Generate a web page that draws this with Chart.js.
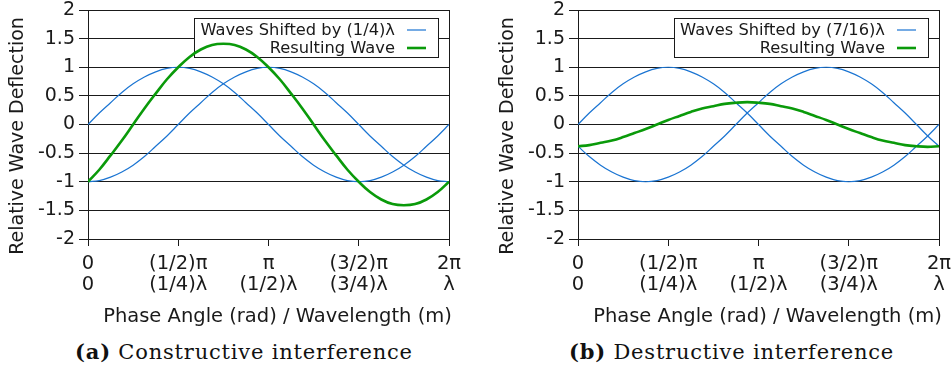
<!doctype html>
<html lang="en">
<head>
<meta charset="utf-8">
<script src="https://cdn.jsdelivr.net/npm/chart.js@4.4.1/dist/chart.umd.min.js"></script>
<style>
    html,
    body {
        margin: 0;
        padding: 0;
        background: #fff;
    }

    body {
        width: 951px;
        height: 380px;
        position: relative;
        overflow: hidden;
    }

    canvas {
        position: absolute;
        top: 0;
    }

    .caption {
        position: absolute;
        top: 339px;
        font-family: "DejaVu Serif", serif;
        font-size: 21px;
        letter-spacing: 0.8px;
        color: #111;
        white-space: nowrap;
    }
</style>
</head>

<body>
    <canvas id="chartA" width="461" height="330" style="left:0"></canvas>
    <canvas id="chartB" width="461" height="330" style="left:490px"></canvas>
    <div class="caption" style="left:75px"><b>(a)</b> Constructive interference</div>
    <div class="caption" style="left:569px"><b>(b)</b> Destructive interference</div>

    <script>
        // phase in units of pi, sampled every pi/16
        const phase = [0, 0.0625, 0.125, 0.1875, 0.25, 0.3125, 0.375, 0.4375, 0.5, 0.5625, 0.625, 0.6875, 0.75, 0.8125, 0.875, 0.9375,
            1, 1.0625, 1.125, 1.1875, 1.25, 1.3125, 1.375, 1.4375, 1.5, 1.5625, 1.625, 1.6875, 1.75, 1.8125, 1.875, 1.9375, 2];

        // (a) shifted by 1/4 wavelength
        const waveA1 = [0, 0.2, 0.38, 0.56, 0.71, 0.83, 0.92, 0.98, 1, 0.98, 0.92, 0.83, 0.71, 0.56, 0.38, 0.2,
            0, -0.2, -0.38, -0.56, -0.71, -0.83, -0.92, -0.98, -1, -0.98, -0.92, -0.83, -0.71, -0.56, -0.38, -0.2, 0];
        const waveA2 = [-1, -0.98, -0.92, -0.83, -0.71, -0.56, -0.38, -0.2, 0, 0.2, 0.38, 0.56, 0.71, 0.83, 0.92, 0.98,
            1, 0.98, 0.92, 0.83, 0.71, 0.56, 0.38, 0.2, 0, -0.2, -0.38, -0.56, -0.71, -0.83, -0.92, -0.98, -1];
        const resultA = [-1, -0.79, -0.54, -0.28, 0, 0.28, 0.54, 0.79, 1, 1.18, 1.31, 1.39, 1.41, 1.39, 1.31, 1.18,
            1, 0.79, 0.54, 0.28, 0, -0.28, -0.54, -0.79, -1, -1.18, -1.31, -1.39, -1.41, -1.39, -1.31, -1.18, -1];

        // (b) shifted by 7/16 wavelength
        const waveB1 = [0, 0.2, 0.38, 0.56, 0.71, 0.83, 0.92, 0.98, 1, 0.98, 0.92, 0.83, 0.71, 0.56, 0.38, 0.2,
            0, -0.2, -0.38, -0.56, -0.71, -0.83, -0.92, -0.98, -1, -0.98, -0.92, -0.83, -0.71, -0.56, -0.38, -0.2, 0];
        const waveB2 = [-0.38, -0.56, -0.71, -0.83, -0.92, -0.98, -1, -0.98, -0.92, -0.83, -0.71, -0.56, -0.38, -0.2, 0, 0.2,
            0.38, 0.56, 0.71, 0.83, 0.92, 0.98, 1, 0.98, 0.92, 0.83, 0.71, 0.56, 0.38, 0.2, 0, -0.2, -0.38];
        const resultB = [-0.38, -0.36, -0.32, -0.28, -0.22, -0.15, -0.08, 0, 0.08, 0.15, 0.22, 0.28, 0.32, 0.36, 0.38, 0.39,
            0.38, 0.36, 0.32, 0.28, 0.22, 0.15, 0.08, 0, -0.08, -0.15, -0.22, -0.28, -0.32, -0.36, -0.38, -0.39, -0.38];

        // tick labels
        const xTickValues = [0, 0.5, 1, 1.5, 2];
        const piLabels = ['0', '(1/2)\u03c0', '\u03c0', '(3/2)\u03c0', '2\u03c0'];
        const lambdaLabels = ['0', '(1/4)\u03bb', '(1/2)\u03bb', '(3/4)\u03bb', '\u03bb'];

        const BLUE = '#1a74d2';
        const GREEN = '#0a9a0a';
        const INK = '#1a1a1a';
        const FONT = '"DejaVu Sans", sans-serif';

        // frame, legend box (under the curves) and axis titles
        const frameAndLegend = {
            id: 'frameAndLegend',
            beforeDatasetsDraw(chart) {
                const { ctx, chartArea } = chart;
                ctx.save();
                ctx.font = '16.3px ' + FONT;
                const entries = chart.data.datasets.filter(d => d.legendRow !== undefined)
                    .sort((a, b) => a.legendRow - b.legendRow);
                const textW = Math.max(...entries.map(e => ctx.measureText(e.label).width));
                const right = chartArea.right - 10;
                const top = chartArea.top + 8;
                const textRight = right - 44;
                const left = Math.round(textRight - textW - 6);
                const bottom = top + 39;
                ctx.fillStyle = '#fff';
                ctx.fillRect(left, top, right - left, bottom - top);
                ctx.strokeStyle = INK;
                ctx.lineWidth = 1;
                ctx.strokeRect(left + 0.5, top + 0.5, right - left - 1, bottom - top);
                entries.forEach((e, i) => {
                    const y = top + 12 + i * 18;
                    ctx.fillStyle = INK;
                    ctx.textAlign = 'right';
                    ctx.textBaseline = 'middle';
                    ctx.fillText(e.label, textRight, y + 1);
                    ctx.strokeStyle = e.borderColor;
                    ctx.lineWidth = e.borderWidth;
                    ctx.beginPath();
                    ctx.moveTo(right - 32, y);
                    ctx.lineTo(right - 13, y);
                    ctx.stroke();
                });
                // plot frame
                ctx.strokeStyle = INK;
                ctx.lineWidth = 1;
                ctx.strokeRect(Math.round(chartArea.left) + 0.5, Math.round(chartArea.top) + 0.5,
                    Math.round(chartArea.right - chartArea.left), Math.round(chartArea.bottom - chartArea.top));
                ctx.restore();
            },
            afterDraw(chart) {
                const { ctx, chartArea } = chart;
                ctx.save();
                ctx.fillStyle = INK;
                ctx.font = '19.5px ' + FONT;
                ctx.textAlign = 'center';
                ctx.textBaseline = 'middle';
                ctx.fillText('Phase Angle (rad) / Wavelength (m)', (chartArea.left + chartArea.right) / 2 + 9, 317);
                ctx.font = '19px ' + FONT;
                ctx.translate(18, 136);
                ctx.rotate(-Math.PI / 2);
                ctx.fillText('Relative Wave Deflection', 0, 0);
                ctx.restore();
            }
        };

        function points(values) {
            return phase.map((x, i) => ({ x: x, y: values[i] }));
        }

        function makeChart(id, shiftText, w1, w2, res) {
            return new Chart(document.getElementById(id), {
                type: 'line',
                data: {
                    datasets: [
                        { label: 'Resulting Wave', data: points(res), borderColor: GREEN, borderWidth: 2.6, order: 0, legendRow: 1 },
                        { label: 'Waves Shifted by ' + shiftText, data: points(w1), borderColor: BLUE, borderWidth: 1.2, order: 1, legendRow: 0 },
                        { label: 'Waves Shifted by ' + shiftText, data: points(w2), borderColor: BLUE, borderWidth: 1.2, order: 2 }
                    ].map(d => Object.assign(d, { pointRadius: 0, fill: false, tension: 0.4 }))
                },
                options: {
                    responsive: false,
                    animation: false,
                    devicePixelRatio: 1,
                    layout: { padding: { left: 0, right: 12, top: 10, bottom: 0 } },
                    plugins: { legend: { display: false }, tooltip: { enabled: false } },
                    scales: {
                        x: {
                            type: 'linear',
                            min: 0,
                            max: 2,
                            afterBuildTicks: s => { s.ticks = xTickValues.map(v => ({ value: v })); },
                            afterFit: s => { s.height = 91; s.paddingLeft = 0; s.paddingRight = 0; },
                            ticks: {
                                color: INK,
                                font: { family: FONT, size: 19.5, lineHeight: 1.08 },
                                padding: 7,
                                maxRotation: 0,
                                autoSkip: false,
                                callback: (v, i) => [piLabels[i], lambdaLabels[i]]
                            },
                            grid: { drawOnChartArea: false, tickLength: 7, color: INK },
                            border: { color: INK }
                        },
                        y: {
                            min: -2,
                            max: 2,
                            afterFit: s => { s.width = 88; s.paddingTop = 0; s.paddingBottom = 0; },
                            ticks: {
                                stepSize: 0.5,
                                color: INK,
                                font: { family: FONT, size: 19 },
                                padding: 4,
                                callback: v => String(v)
                            },
                            grid: { tickLength: 9, color: INK },
                            border: { color: INK }
                        }
                    }
                },
                plugins: [frameAndLegend]
            });
        }

        makeChart('chartA', '(1/4)\u03bb', waveA1, waveA2, resultA);
        makeChart('chartB', '(7/16)\u03bb', waveB1, waveB2, resultB);
    </script>
</body>
</html>
